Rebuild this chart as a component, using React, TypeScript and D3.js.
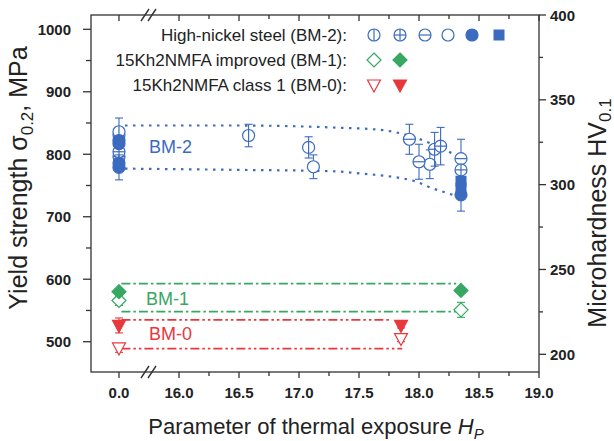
import React, { useRef, useEffect } from "react";
import * as d3 from "d3";

const W = 614;
const H = 441;
const BLUE = "#3b6bbf";
const GREEN = "#36a862";
const RED = "#e8383d";
const INK = "#222";
const FONT = "'Liberation Sans', Arial, sans-serif";

// axis ticks
const xTicks = [0, 16, 16.5, 17, 17.5, 18, 18.5, 19];
const xMinor = [16.25, 16.75, 17.25, 17.75, 18.25, 18.75];
const yTicks = [500, 600, 700, 800, 900, 1000];
const yMinor = [550, 650, 750, 850, 950];
const hvTicks = [200, 250, 300, 350, 400];
const hvMinor = [225, 275, 325, 375];

// BM-2, high-nickel steel: [Hp, sigma0.2 MPa, error]
const bm2Phi = [[0, 836, 22], [16.58, 830, 18], [17.08, 811, 17]];
const bm2Plus = [[0, 804, 0], [18.13, 808, 27], [18.18, 813, 30], [18.35, 775, 0]];
const bm2Minus = [[0, 796, 0], [17.92, 824, 24], [18.0, 788, 28], [18.35, 793, 31]];
const bm2Open = [[0, 831, 0], [17.12, 780, 19], [18.09, 784, 23]];
const bm2Filled = [[0, 822, 0], [0, 817, 0], [0, 786, 0], [0, 779, 20], [18.35, 735, 26]];
// microhardness HV0.1
const bm2Square = [[18.35, 302, 0], [18.35, 298, 0]];

// BM-1, 15Kh2NMFA improved
const bm1Open = [[0, 566, 8], [18.35, 551, 12]];
const bm1Filled = [[0, 580, 4], [18.35, 582, 4]];

// BM-0, 15Kh2NMFA class 1
const bm0Open = [[0, 490, 7], [17.85, 505, 5]];
const bm0Filled = [[0, 526, 12], [17.85, 526, 4]];

// guide lines
const bm2Upper = [[0.05, 846], [16.5, 846], [17.26, 843], [17.68, 839], [17.93, 829], [18.09, 818], [18.26, 803], [18.42, 792]];
const bm2Lower = [[0.05, 777], [16.5, 775], [17.26, 773], [17.53, 769], [17.81, 763], [17.98, 756], [18.09, 747], [18.2, 740], [18.3, 734]];
const bm1Upper = [[0.02, 593], [18.31, 593]];
const bm1Lower = [[0.02, 548], [18.31, 548]];
const bm0Upper = [[0.02, 535], [17.77, 535]];
const bm0Lower = [[0.02, 489], [17.86, 489]];

const legendRows = [
  { label: "High-nickel steel (BM-2):", color: BLUE, marks: ["phi", "plus", "minus", "open", "filled", "square"] },
  { label: "15Kh2NMFA improved (BM-1):", color: GREEN, marks: ["diamondOpen", "diamondFilled"] },
  { label: "15Kh2NMFA class 1 (BM-0):", color: RED, marks: ["triOpen", "triFilled"] },
];

const App = () => {
  const ref = useRef(null);

  useEffect(() => {
    const svg = d3.select(ref.current);
    svg.selectAll("*").remove();

    const left = 91, right = 539, top = 15, bottom = 372;

    // broken x axis: 0.0 segment, then 16..19
    const x = d3.scaleLinear().domain([-0.233, 0.25, 15.75, 19]).range([left, 149, 149, right]);
    const y = d3.scaleLinear().domain([500, 1000]).range([341.7, 29.3]);
    const yHV = d3.scaleLinear().domain([200, 400]).range([354.3, 15]);

    const g = svg.append("g");

    // frame
    g.append("rect").attr("x", left).attr("y", top).attr("width", right - left).attr("height", bottom - top)
      .attr("fill", "none").attr("stroke", "#333").attr("stroke-width", 1.3);

    const tick = (x1, y1, x2, y2) =>
      g.append("line").attr("x1", x1).attr("y1", y1).attr("x2", x2).attr("y2", y2)
        .attr("stroke", "#333").attr("stroke-width", 1.3);

    const tickText = (t, tx, ty, anchor) =>
      g.append("text").attr("x", tx).attr("y", ty).attr("text-anchor", anchor)
        .attr("font-family", FONT).attr("font-weight", "bold").attr("font-size", 15).attr("fill", INK)
        .text(t);

    // x ticks bottom (out) and top (in)
    xTicks.forEach((v) => {
      tick(x(v), bottom, x(v), bottom + 6);
      tick(x(v), top, x(v), top + 6);
      tickText(v.toFixed(1), x(v), bottom + 26, "middle");
    });
    xMinor.forEach((v) => {
      tick(x(v), bottom, x(v), bottom + 4);
      tick(x(v), top, x(v), top + 4);
    });

    // axis breaks
    [bottom, top].forEach((yy) => {
      [145, 152].forEach((bx) => {
        g.append("line").attr("x1", bx - 4).attr("y1", yy + 6).attr("x2", bx + 4).attr("y2", yy - 6)
          .attr("stroke", "#333").attr("stroke-width", 1.4);
      });
    });

    // left axis
    yTicks.forEach((v) => {
      tick(left - 8, y(v), left, y(v));
      tickText(v, left - 20, y(v) + 5.5, "end");
    });
    yMinor.forEach((v) => tick(left - 5, y(v), left, y(v)));

    // right axis
    hvTicks.forEach((v) => {
      tick(right, yHV(v), right + 7, yHV(v));
      tickText(v, right + 11, yHV(v) + 5.5, "start");
    });
    hvMinor.forEach((v) => tick(right, yHV(v), right + 4, yHV(v)));

    // axis titles
    const lt = g.append("text").attr("transform", `translate(27,178) rotate(-90)`).attr("text-anchor", "middle")
      .attr("font-family", FONT).attr("font-size", 25).attr("fill", INK);
    lt.append("tspan").text("Yield strength σ");
    lt.append("tspan").attr("font-size", 17).attr("dy", 6).text("0.2");
    lt.append("tspan").attr("dy", -6).text(", MPa");

    const rt = g.append("text").attr("transform", `translate(606,213) rotate(-90)`).attr("text-anchor", "middle")
      .attr("font-family", FONT).attr("font-size", 25).attr("fill", INK);
    rt.append("tspan").text("Microhardness HV");
    rt.append("tspan").attr("font-size", 17).attr("dy", 5).text("0.1");

    const bt = g.append("text").attr("x", 316).attr("y", 434).attr("text-anchor", "middle")
      .attr("font-family", FONT).attr("font-size", 22).attr("fill", INK);
    bt.append("tspan").text("Parameter of thermal exposure ");
    bt.append("tspan").attr("font-style", "italic").text("H");
    bt.append("tspan").attr("font-style", "italic").attr("font-size", 15).attr("dy", 5).text("P");

    // guide lines
    const line = (pts, yS, color, dash, w, curve) => {
      const gen = d3.line().x((d) => x(d[0])).y((d) => yS(d[1])).curve(curve || d3.curveLinear);
      g.append("path").attr("d", gen(pts)).attr("fill", "none").attr("stroke", color)
        .attr("stroke-width", w).attr("stroke-dasharray", dash).attr("stroke-linecap", "butt");
    };
    line(bm2Upper, y, BLUE, "2.5,5.5", 2.2, d3.curveMonotoneX);
    line(bm2Lower, y, BLUE, "2.5,5.5", 2.2, d3.curveMonotoneX);
    line(bm1Upper, y, GREEN, "9,3,2.5,3", 1.7);
    line(bm1Lower, y, GREEN, "9,3,2.5,3", 1.7);
    line(bm0Upper, y, RED, "9,3,2.5,3,2.5,3", 1.7);
    line(bm0Lower, y, RED, "9,3,2.5,3,2.5,3", 1.7);

    // markers
    const marker = (type, cx, cy, color) => {
      const m = g.append("g").attr("transform", `translate(${cx},${cy})`);
      const r = 6;
      const sw = 1.2;
      if (["phi", "plus", "minus", "open", "filled"].includes(type)) {
        m.append("circle").attr("r", r).attr("fill", type === "filled" ? color : "white")
          .attr("stroke", color).attr("stroke-width", sw);
        if (type === "phi" || type === "plus")
          m.append("line").attr("x1", 0).attr("y1", -r).attr("x2", 0).attr("y2", r).attr("stroke", color).attr("stroke-width", sw);
        if (type === "minus" || type === "plus")
          m.append("line").attr("x1", -r).attr("y1", 0).attr("x2", r).attr("y2", 0).attr("stroke", color).attr("stroke-width", sw);
      } else if (type === "square") {
        m.append("rect").attr("x", -5.5).attr("y", -5.5).attr("width", 11).attr("height", 11).attr("fill", color);
      } else if (type.startsWith("diamond")) {
        m.append("path").attr("d", "M0,-7L7,0L0,7L-7,0Z")
          .attr("fill", type === "diamondFilled" ? color : "white").attr("stroke", color).attr("stroke-width", sw);
      } else if (type.startsWith("tri")) {
        m.append("path").attr("d", "M-6.5,-5L6.5,-5L0,7Z")
          .attr("fill", type === "triFilled" ? color : "white").attr("stroke", color).attr("stroke-width", sw);
      }
    };

    const errBar = (cx, cy1, cy2, color) => {
      g.append("line").attr("x1", cx).attr("x2", cx).attr("y1", cy1).attr("y2", cy2).attr("stroke", color).attr("stroke-width", 1.1);
      [cy1, cy2].forEach((yy) =>
        g.append("line").attr("x1", cx - 4).attr("x2", cx + 4).attr("y1", yy).attr("y2", yy).attr("stroke", color).attr("stroke-width", 1.1));
    };

    const series = (data, type, color, yS = y) => {
      data.forEach(([hp, v, e]) => {
        if (e) errBar(x(hp), yS(v + e), yS(v - e), color);
      });
      data.forEach(([hp, v]) => marker(type, x(hp), yS(v), color));
    };

    series(bm0Open, "triOpen", RED);
    series(bm0Filled, "triFilled", RED);
    series(bm1Open, "diamondOpen", GREEN);
    series(bm1Filled, "diamondFilled", GREEN);
    series(bm2Open, "open", BLUE);
    series(bm2Phi, "phi", BLUE);
    series(bm2Minus, "minus", BLUE);
    series(bm2Plus, "plus", BLUE);
    series(bm2Square, "square", BLUE, yHV);
    series(bm2Filled, "filled", BLUE);

    // group labels
    const label = (txt, lx, ly, color) =>
      g.append("text").attr("x", lx).attr("y", ly).attr("font-family", FONT).attr("font-size", 18)
        .attr("fill", color).text(txt);
    label("BM-2", 149, 153, BLUE);
    label("BM-1", 146, 304.5, GREEN);
    label("BM-0", 149, 340, RED);

    // legend
    const legX = [374, 400, 425, 448, 472, 499];
    legendRows.forEach((row, i) => {
      const ly = 35 + i * 25;
      g.append("text").attr("x", 347).attr("y", ly + 6).attr("text-anchor", "end")
        .attr("font-family", FONT).attr("font-size", 17).attr("fill", INK).text(row.label);
      row.marks.forEach((mk, j) => marker(mk, legX[j], ly, row.color));
    });
  }, []);

  return (
    <svg ref={ref} width={W} height={H} style={{ position: "absolute", left: 0, top: 0, background: "white" }}></svg>
  );
};

export default App;
